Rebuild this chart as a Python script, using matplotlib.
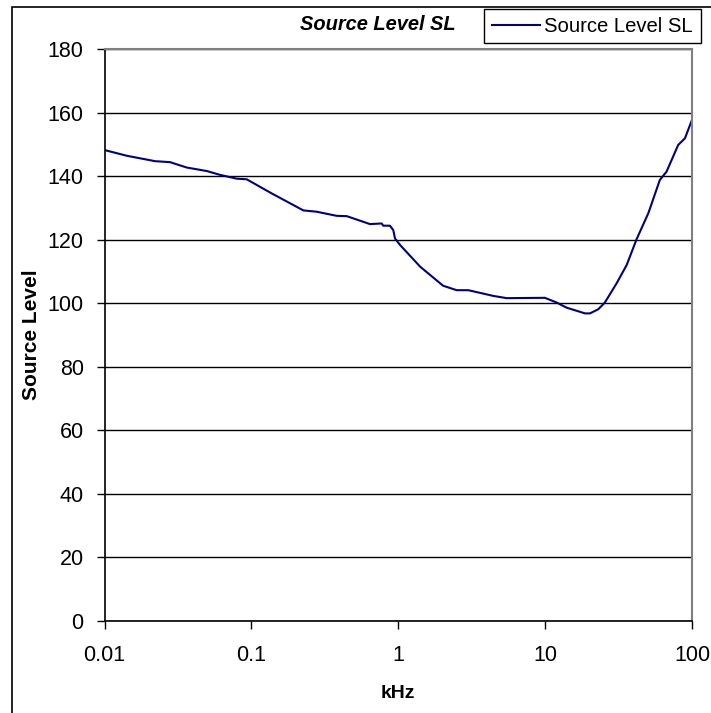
import numpy as np
import matplotlib
matplotlib.use('Agg')
import matplotlib.pyplot as plt
from matplotlib.patches import Rectangle
from matplotlib.ticker import FixedLocator, FixedFormatter, NullLocator

plt.rcParams['font.family'] = ['Liberation Sans', 'DejaVu Sans']

# frequency (kHz) and source level
freq_khz = [0.01, 0.0142, 0.0221, 0.0279, 0.0363, 0.0497, 0.0611, 0.0794, 0.0929,
            0.137, 0.226, 0.278, 0.381, 0.446, 0.642, 0.771, 0.79, 0.878, 0.925,
            0.95, 1.03, 1.41, 2.02, 2.5, 3.0, 4.44, 5.47, 9.97, 12.0, 14.0, 18.7,
            20.2, 23.0, 25.5, 30.7, 35.9, 42.0, 50.4, 60.4, 67.1, 80.5, 89.5, 100]
source_level = [148.2, 146.4, 144.7, 144.4, 142.7, 141.6, 140.4, 139.2, 139.0,
                134.6, 129.2, 128.8, 127.5, 127.4, 124.9, 125.1, 124.4, 124.4, 123.0,
                120.4, 118.3, 111.5, 105.5, 104.1, 104.1, 102.3, 101.6, 101.7, 100.2,
                98.6, 96.8, 96.8, 98.1, 100.2, 106.3, 112.0, 120.2, 128.3, 138.8,
                141.4, 149.8, 151.9, 157.7]

x_ticks = [0.01, 0.1, 1, 10, 100]
x_tick_labels = ['0.01', '0.1', '1', '10', '100']
y_ticks = list(range(0, 181, 20))

W, H = 711, 713
fig = plt.figure(figsize=(W / 100, H / 100), dpi=100)
ax = fig.add_axes([104.5 / W, 1 - 621 / H, (692 - 104.5) / W, (621 - 49) / H])

line, = ax.plot(freq_khz, source_level, color='#000080', lw=1.5, label='Source Level SL')

ax.set_xscale('log')
ax.set_xlim(0.01, 100)
ax.set_ylim(0, 180)
ax.xaxis.set_major_locator(FixedLocator(x_ticks))
ax.xaxis.set_major_formatter(FixedFormatter(x_tick_labels))
ax.xaxis.set_minor_locator(NullLocator())
ax.set_yticks(y_ticks)

ax.yaxis.grid(True, color='black', lw=1)
ax.set_axisbelow(True)
for s in ['top', 'right']:
    ax.spines[s].set_color('#808080')
    ax.spines[s].set_linewidth(1.5)
for s in ['left', 'bottom']:
    ax.spines[s].set_color('black')
    ax.spines[s].set_linewidth(1.2)

ax.tick_params(axis='both', direction='out', length=6, width=1, labelsize=15.5)
ax.tick_params(axis='x', pad=11)
ax.tick_params(axis='y', pad=9)

ax.set_xlabel('kHz', fontsize=14, fontweight='bold')
ax.set_ylabel('Source Level', fontsize=15, fontweight='bold')
ax.xaxis.set_label_coords(0.5, (621 - 685) / 572)
ax.yaxis.set_label_coords((41 - 104.5) / 587.5, 0.5)

fig.text(377.5 / W, 1 - 25 / H, 'Source Level SL', ha='center', va='center',
         fontsize=14.4, fontweight='bold', style='italic')

leg = ax.legend(loc='upper left', bbox_to_anchor=(484 / W, 1 - 9 / H),
                bbox_transform=fig.transFigure, fontsize=14.6, fancybox=False,
                framealpha=1, edgecolor='black', borderpad=0.38, handlelength=2.4,
                handletextpad=0.2, borderaxespad=0)
leg.get_frame().set_linewidth(1)

# outer chart border (only left and top visible)
fig.patches.append(Rectangle((11.5 / W, -0.1), 1.2, 1 - 7 / H + 0.1, transform=fig.transFigure,
                             fill=False, ec='black', lw=1.2, clip_on=False))

fig.savefig('out.png', dpi=100)
